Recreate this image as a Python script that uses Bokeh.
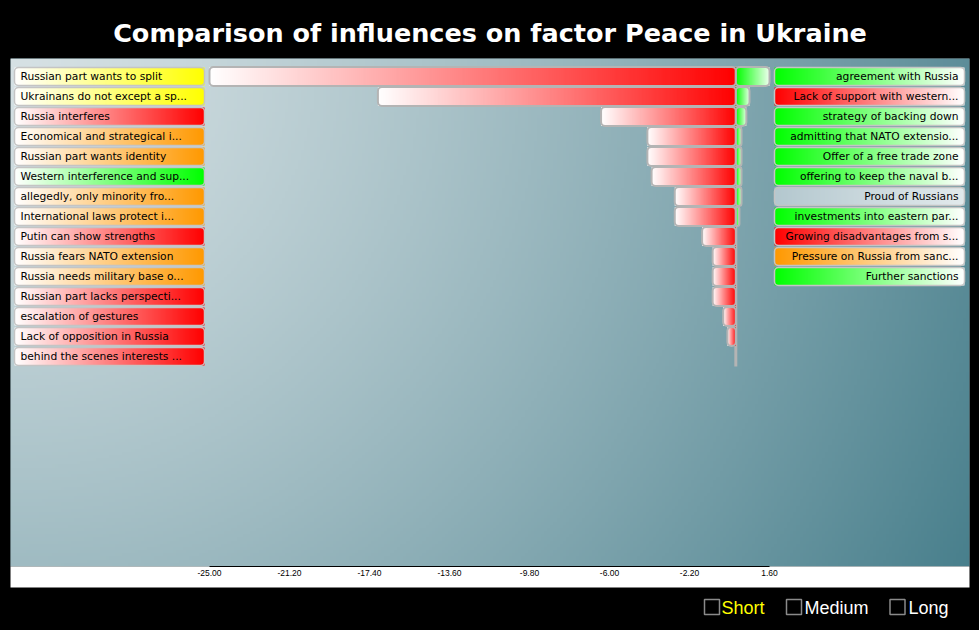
import numpy as np
from bokeh.plotting import figure
from bokeh.layouts import column
from bokeh.models import Range1d, FixedTicker, NumeralTickFormatter
from bokeh.embed import file_html
from bokeh.resources import INLINE
from bokeh.core.properties import value

# ---------------- data ----------------
title_text = "Comparison of influences on factor Peace in Ukraine"

left_labels = [
    "Russian part wants to split",
    "Ukrainans do not except a sp...",
    "Russia interferes",
    "Economical and strategical i...",
    "Russian part wants identity",
    "Western interference and sup...",
    "allegedly, only minority fro...",
    "International laws protect i...",
    "Putin can show strengths",
    "Russia fears NATO extension",
    "Russia needs military base o...",
    "Russian part lacks perspecti...",
    "escalation of gestures",
    "Lack of opposition in Russia",
    "behind the scenes interests ...",
]
left_colors = ["#ffff00", "#ffff00", "#ff0000", "#ff9900", "#ff9900", "#00ff00",
               "#ff9900", "#ff9900", "#ff0000", "#ff9900", "#ff9900", "#ff0000",
               "#ff0000", "#ff0000", "#ff0000"]
neg_values = [-25.0, -17.0, -6.4, -4.2, -4.2, -4.0, -2.9, -2.9, -1.6, -1.1, -1.1, -1.1, -0.6, -0.4, 0.0]

right_labels = [
    "agreement with Russia",
    "Lack of support with western...",
    "strategy of backing down",
    "admitting that NATO extensio...",
    "Offer of a free trade zone",
    "offering to keep the naval b...",
    "Proud of Russians",
    "investments into eastern par...",
    "Growing disadvantages from s...",
    "Pressure on Russia from sanc...",
    "Further sanctions",
]
right_colors = ["#00ff00", "#ff0000", "#00ff00", "#00ff00", "#00ff00", "#00ff00",
                "#b4c8cf", "#00ff00", "#ff0000", "#ff9900", "#00ff00"]
pos_values = [1.6, 0.65, 0.5, 0.27, 0.27, 0.27, 0.27, 0.17, 0.0, 0.0, 0.0]

tick_values = [-25.0, -21.2, -17.4, -13.6, -9.8, -6.0, -2.2, 1.6]
legend_items = ["Short", "Medium", "Long"]
legend_text_colors = ["#ffff00", "#ffffff", "#ffffff"]

# ---------------- pixel <-> data helpers (layout only) ----------------
PX_LO, PX_HI = 209.0, 769.0            # screen x of first / last tick
K = (PX_HI - PX_LO) / (tick_values[-1] - tick_values[0])


def xpx(px):
    return tick_values[0] + (px - PX_LO) / K


def ypx(py):
    return (py - 76.0) / 20.0


def hex_rgb(h):
    h = h.lstrip("#")
    return np.array([int(h[i:i + 2], 16) for i in (0, 2, 4)], dtype=float)


def grad_img(c_left, c_right, n=256):
    a, b = hex_rgb(c_left), hex_rgb(c_right)
    t = np.linspace(0, 1, n)[:, None]
    rgb = a * (1 - t) + b * t
    img = np.empty((1, n), dtype=np.uint32)
    v = img.view(dtype=np.uint8).reshape((1, n, 4))
    v[0, :, 0:3] = rgb.astype(np.uint8)
    v[0, :, 3] = 255
    return img


# ---------------- main figure ----------------
p = figure(width=979, height=590, output_backend="svg", toolbar_location=None,
           x_range=Range1d(xpx(10), xpx(969)), y_range=Range1d(ypx(566), ypx(58)),
           min_border_left=10, min_border_right=10, min_border_top=58, min_border_bottom=24)
p.border_fill_color = "black"
p.background_fill_color = "#8fb0b7"
p.outline_line_color = None
p.grid.visible = False
p.yaxis.visible = False

p.title.text = title_text
p.title.text_color = "white"
p.title.text_font = "DejaVu Sans"
p.title.text_font_size = "25.5px"
p.title.text_font_style = "bold"
p.title.align = "center"
p.title.standoff = 21

# background gradient
H, W = 160, 300
yy, xx = np.mgrid[0:H, 0:W]
xs_px = xx / (W - 1) * 959.0
ys_px = (H - 1 - yy) / (H - 1) * 508.0
d = np.sqrt(xs_px ** 2 + ys_px ** 2) / 1090.0
t = np.clip(d, 0, 1) ** 1.25
c0, c1 = np.array([214, 225, 228.]), np.array([72, 127, 140.])
bg = np.empty((H, W), dtype=np.uint32)
bv = bg.view(dtype=np.uint8).reshape((H, W, 4))
for ch in range(3):
    bv[:, :, ch] = (c0[ch] * (1 - t) + c1[ch] * t).astype(np.uint8)
bv[:, :, 3] = 255
p.image_rgba(image=[bg], x=xpx(10), y=ypx(58), dw=xpx(969) - xpx(10), dh=ypx(566) - ypx(58),
             origin="top_left")

# zero line
p.segment(x0=[0], y0=[-0.5], x1=[0], y1=[len(left_labels) - 0.5], line_color="#b4b4b4", line_width=3)

BAR_H = 0.95
imgs, ix, iy, idw, idh = [], [], [], [], []
ql, qr, qy = [], [], []
for i, v in enumerate(neg_values):
    if v < 0:
        imgs.append(grad_img("#ffffff", "#ff0000"))
        ix.append(v); iy.append(i - BAR_H / 2); idw.append(-v); idh.append(BAR_H)
        ql.append(v); qr.append(0.0); qy.append(i)
for i, v in enumerate(pos_values):
    if v > 0:
        imgs.append(grad_img("#00ff00", "#f4fff4"))
        ix.append(0.0); iy.append(i - BAR_H / 2); idw.append(v); idh.append(BAR_H)
        ql.append(0.0); qr.append(v); qy.append(i)
p.image_rgba(image=imgs, x=ix, y=iy, dw=idw, dh=idh)
p.quad(left=ql, right=qr, top=[y - BAR_H / 2 for y in qy], bottom=[y + BAR_H / 2 for y in qy],
       fill_color=None, line_color="#b4b4b4", line_width=2, border_radius=4)

# label boxes
LB_H = 0.9
lx0, lx1 = xpx(14), xpx(204)
rx0, rx1 = xpx(774), xpx(964)
imgs, ix, iy, idw, idh = [], [], [], [], []
bl, br, by = [], [], []
for i, c in enumerate(left_colors):
    imgs.append(grad_img("#ffffff", c))
    ix.append(lx0); iy.append(i - LB_H / 2); idw.append(lx1 - lx0); idh.append(LB_H)
    bl.append(lx0); br.append(lx1); by.append(i)
for i, c in enumerate(right_colors):
    imgs.append(grad_img(c, "#e2eaec" if c == "#b4c8cf" else "#ffffff"))
    ix.append(rx0); iy.append(i - LB_H / 2); idw.append(rx1 - rx0); idh.append(LB_H)
    bl.append(rx0); br.append(rx1); by.append(i)
p.image_rgba(image=imgs, x=ix, y=iy, dw=idw, dh=idh)
p.quad(left=bl, right=br, top=[y - LB_H / 2 for y in by], bottom=[y + LB_H / 2 for y in by],
       fill_color=None, line_color="#c4c4c4", line_width=1.5, border_radius=4)

p.text(x=[xpx(20)] * len(left_labels), y=list(range(len(left_labels))), text=left_labels,
       text_font=value("DejaVu Sans"), text_font_size="10.7px", text_color="black",
       text_align="left", text_baseline="middle")
p.text(x=[xpx(958)] * len(right_labels), y=list(range(len(right_labels))), text=right_labels,
       text_font=value("DejaVu Sans"), text_font_size="10.7px", text_color="black",
       text_align="right", text_baseline="middle")

# x axis
ax = p.xaxis[0]
ax.ticker = FixedTicker(ticks=tick_values)
ax.formatter = NumeralTickFormatter(format="0.00")
ax.bounds = (tick_values[0], tick_values[-1])
ax.axis_line_color = "black"
ax.axis_line_width = 1
ax.major_tick_line_color = None
ax.minor_tick_line_color = None
ax.major_tick_out = 0
ax.major_tick_in = 0
ax.major_label_standoff = 3
ax.major_label_text_font = "Liberation Sans"
ax.major_label_text_font_size = "8.5px"
ax.major_label_text_color = "black"
ax.axis_label = "\u00a0"
ax.axis_label_text_font_size = "5px"
ax.axis_label_standoff = 0
ax.background_fill_color = "white"

# ---------------- legend strip (checkboxes) ----------------
# frame aligned with the main frame (screen x 10..969), so x is screen px
lg = figure(width=979, height=40, output_backend="svg", toolbar_location=None,
            title=None, x_range=Range1d(10, 969), y_range=Range1d(630, 590),
            min_border_left=10, min_border_right=10, min_border_top=0, min_border_bottom=0,
            x_axis_location=None, y_axis_location=None)
lg.border_fill_color = "black"
lg.background_fill_color = "black"
lg.outline_line_color = None
lg.grid.visible = False

box_px = [711.5, 793.5, 897.0]
text_px = [721, 804, 908]
lg.rect(x=box_px, y=[606.5] * 3, width=15, height=15, fill_color=None,
        line_color="#8a8a8a", line_width=1.5)
lg.text(x=text_px, y=[607.0] * 3, text=legend_items, text_color=legend_text_colors,
        text_font=value("Liberation Sans"), text_font_size="18px",
        text_align="left", text_baseline="middle")

layout = column(p, lg, spacing=0, styles={"background-color": "black"})
open("out.html", "w").write(file_html(layout, INLINE))
